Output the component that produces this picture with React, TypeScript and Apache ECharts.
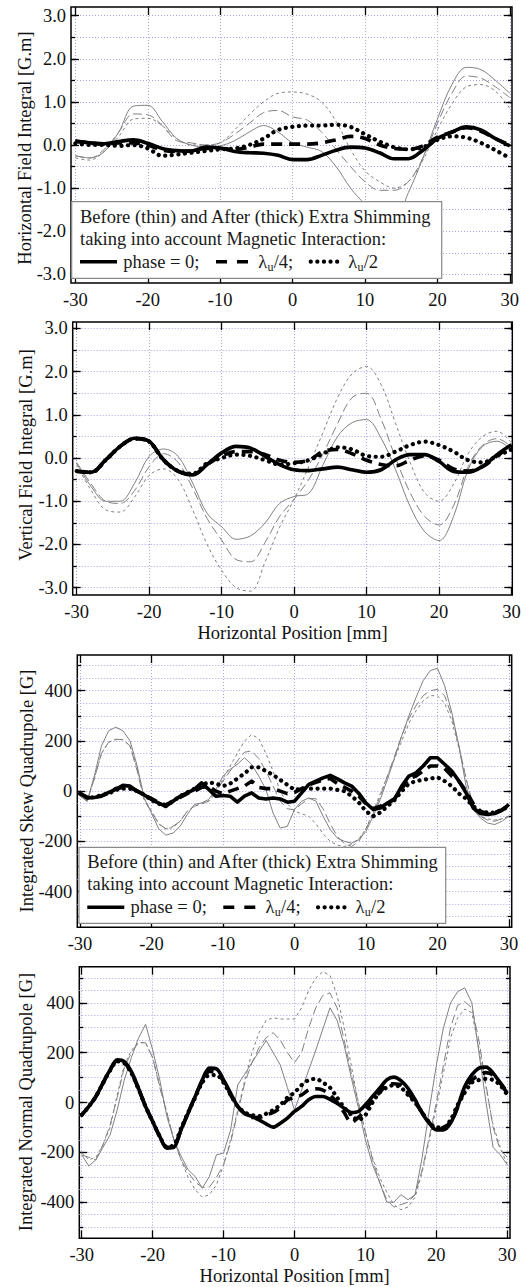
import { useEffect, useRef } from "react";
import * as echarts from "echarts";

// ---------- x positions (mm) ----------
const X2 = [-30,-28,-26,-24,-22,-20,-18,-16,-14,-12,-10,-8,-6,-4,-2,0,2,4,6,8,10,12,14,16,18,20,22,24,26,28,30];
const X1 = [-30,-29,-28,-27,-26,-25,-24,-23,-22,-21,-20,-19,-18,-17,-16,-15,-14,-13,-12,-11,-10,-9,-8,-7,-6,-5,-4,-3,-2,-1,0,1,2,3,4,5,6,7,8,9,10,11,12,13,14,15,16,17,18,19,20,21,22,23,24,25,26,27,28,29,30];

// ---------- tick values ----------
const X_TICKS = [-30,-20,-10,0,10,20,30];
const FIELD_LABELS = [-3,-2,-1,0,1,2,3];
const FIELD_MINOR = [-3,-2.5,-2,-1.5,-1,-0.5,0,0.5,1,1.5,2,2.5,3];
const QUAD_LABELS = [-400,-200,0,200,400];
const QUAD_MINOR = [-500,-400,-300,-200,-100,0,100,200,300,400,500];
const QUAD_GRID = [-500,-450,-400,-350,-300,-250,-200,-150,-100,-50,0,50,100,150,200,250,300,350,400,450,500];

// ---------- Panel 1: Horizontal field integral [G.m] ----------
const hBefore0 = [-0.25,-0.3,-0.15,0.3,0.9,0.92,0.55,0.15,0.0,-0.05,-0.02,0.1,0.3,0.45,0.3,0.05,-0.05,-0.15,-0.5,-1.0,-1.38,-1.75,-1.75,-1.1,-0.3,0.6,1.4,1.8,1.75,1.5,1.2];
const hBefore4 = [-0.25,-0.3,-0.1,0.3,0.72,0.7,0.45,0.1,0.05,0.0,0.05,0.25,0.5,0.75,0.8,0.65,0.58,0.3,-0.1,-0.5,-0.85,-1.05,-1.05,-0.85,-0.3,0.5,1.2,1.6,1.55,1.35,1.1];
const hBefore2 = [-0.3,-0.35,-0.15,0.2,0.6,0.62,0.45,0.15,0.0,0.0,0.05,0.35,0.7,1.0,1.2,1.23,1.18,1.0,0.55,-0.1,-0.6,-0.85,-1.0,-0.85,-0.35,0.35,0.95,1.35,1.4,1.25,0.85];
const hAfter0 = [0.08,0.05,0.03,0.08,0.12,0.04,-0.08,-0.13,-0.14,-0.05,-0.07,-0.15,-0.18,-0.19,-0.24,-0.34,-0.34,-0.24,-0.12,-0.05,-0.07,-0.18,-0.32,-0.32,-0.12,0.15,0.3,0.42,0.35,0.15,-0.02];
const hAfter4 = [0.1,0.05,0.02,0.05,0.05,0.0,-0.12,-0.15,-0.14,-0.08,-0.08,-0.1,-0.05,0.02,0.02,0.02,0.02,0.05,0.12,0.2,0.15,0.0,-0.08,-0.1,-0.02,0.18,0.3,0.4,0.32,0.15,0.0];
const hAfter2 = [0.04,0.0,0.0,-0.02,0.0,-0.08,-0.25,-0.22,-0.18,-0.14,-0.1,-0.08,0.0,0.15,0.35,0.42,0.45,0.45,0.47,0.42,0.25,0.08,-0.05,-0.1,-0.05,0.12,0.2,0.17,0.05,-0.12,-0.3];

// ---------- Panel 2: Vertical field integral [G.m] ----------
const vBefore0 = [-0.12,-0.66,-1.0,-1.0,-0.58,0.04,0.21,0.04,-0.58,-1.28,-1.59,-1.88,-1.8,-1.5,-1.05,-0.89,-0.82,-0.15,0.5,0.82,0.89,0.46,-0.27,-1.12,-1.7,-1.91,-1.35,-0.27,0.27,0.39,0.19];
const vBefore4 = [-0.1,-0.6,-1.0,-1.05,-0.75,-0.2,0.1,-0.1,-0.7,-1.4,-1.9,-2.35,-2.4,-1.95,-1.35,-0.95,-0.5,0.1,0.8,1.4,1.5,0.9,0.0,-0.8,-1.35,-1.55,-1.1,-0.2,0.3,0.45,0.25];
const vBefore2 = [-0.15,-0.75,-1.2,-1.25,-0.9,-0.4,-0.25,-0.5,-1.2,-2.0,-2.6,-3.0,-3.08,-2.4,-1.6,-0.95,-0.2,0.6,1.4,1.95,2.12,1.7,0.8,-0.1,-0.8,-1.0,-0.6,0.1,0.5,0.62,0.35];
const vAfter0 = [-0.31,-0.33,-0.04,0.27,0.46,0.39,-0.04,-0.31,-0.39,-0.15,0.12,0.27,0.23,0.04,-0.15,-0.27,-0.29,-0.25,-0.21,-0.27,-0.33,-0.27,-0.04,0.08,0.08,-0.08,-0.31,-0.33,-0.19,0.08,0.31];
const vAfter4 = [-0.3,-0.33,-0.05,0.27,0.45,0.38,-0.05,-0.3,-0.38,-0.15,0.05,0.15,0.15,0.08,-0.05,-0.1,-0.05,0.15,0.2,0.1,-0.05,-0.15,-0.18,-0.05,0.05,-0.05,-0.25,-0.3,-0.2,0.05,0.28];
const vAfter2 = [-0.3,-0.33,-0.05,0.27,0.45,0.38,-0.05,-0.3,-0.36,-0.12,0.0,0.08,0.05,-0.05,-0.15,-0.12,-0.05,0.1,0.25,0.2,0.05,0.03,0.15,0.3,0.38,0.3,0.15,-0.05,-0.1,0.05,0.2];

// ---------- Panel 3: Integrated skew quadrupole [G] ----------
const sBefore0 = [-5,-40,60,180,240,255,240,200,100,-30,-87,-150,-175,-167,-140,-93,-53,-47,-33,7,60,87,107,133,107,60,7,-87,-147,-140,-73,-40,-27,-40,-100,-153,-187,-200,-207,-193,-160,-100,-33,47,133,220,300,373,440,480,489,420,313,180,20,-73,-107,-127,-133,-120,-100];
const sBefore4 = [-20,-40,50,150,195,207,205,180,80,-40,-80,-130,-150,-140,-120,-80,-60,-50,-40,0,40,80,120,155,160,130,80,20,-40,-70,-75,-50,-30,-30,-70,-130,-180,-210,-220,-200,-150,-90,-20,60,140,220,290,340,380,400,405,380,300,180,50,-60,-100,-115,-120,-110,-100];
const sBefore2 = [-20,-40,50,150,195,205,205,180,90,-30,-80,-130,-150,-145,-120,-80,-60,-50,-40,-10,50,100,150,200,225,210,150,80,0,-50,-80,-90,-100,-130,-170,-200,-215,-220,-210,-190,-150,-80,-10,60,130,200,270,320,360,380,380,350,280,170,50,-60,-100,-110,-115,-110,-100];
const sAfter0 = [-7,-27,-25,-20,-5,7,23,20,0,-15,-33,-48,-60,-40,-20,-7,7,33,7,-20,-17,-20,-44,-20,-7,-27,-31,-27,-31,-44,-40,-7,27,40,53,63,49,33,20,-9,-47,-73,-67,-47,-31,20,60,73,100,133,133,107,80,40,-7,-67,-89,-93,-89,-76,-53];
const sAfter4 = [-10,-25,-25,-18,-8,10,15,15,0,-15,-30,-45,-55,-40,-25,-10,0,15,20,0,-10,0,10,20,40,15,10,10,0,-10,-5,10,25,35,45,50,30,15,0,-20,-50,-70,-60,-50,-30,10,50,60,80,100,100,90,60,40,0,-50,-80,-90,-85,-75,-55];
const sAfter2 = [-10,-25,-25,-15,-10,5,10,10,0,-15,-35,-50,-60,-40,-20,-5,10,25,35,30,20,30,50,70,95,95,80,65,45,25,5,10,10,10,10,10,5,0,-20,-45,-80,-100,-85,-60,-35,0,30,40,45,50,55,40,20,-10,-30,-60,-80,-85,-85,-75,-60];

// ---------- Panel 4: Integrated normal quadrupole [G] ----------
const nBefore0 = [-210,-255,-230,-180,-130,-30,90,180,258,314,211,91,-56,-150,-215,-270,-297,-344,-297,-210,-203,-110,71,115,160,205,249,200,150,60,-30,50,130,210,295,380,330,230,100,-20,-150,-250,-320,-400,-400,-370,-390,-370,-220,-30,150,300,400,445,460,400,200,0,-180,-210,-250];
const nBefore4 = [-210,-220,-230,-170,-90,20,140,200,240,240,180,60,-40,-150,-230,-280,-320,-340,-340,-300,-250,-160,-40,80,160,220,260,280,250,200,160,200,300,380,430,440,380,250,120,0,-120,-230,-320,-390,-420,-410,-400,-370,-270,-140,0,150,300,390,405,380,250,70,-100,-190,-220];
const nBefore2 = [-200,-230,-220,-170,-100,30,150,210,240,240,180,70,-40,-150,-230,-300,-350,-380,-370,-330,-250,-150,-30,90,200,280,330,340,335,335,335,380,450,500,525,510,430,300,150,0,-120,-220,-300,-360,-410,-430,-420,-380,-280,-150,-20,120,260,340,375,360,220,60,-90,-180,-250];
const nAfter0 = [-50,-16,24,78,131,171,164,124,57,-16,-76,-136,-183,-180,-110,-43,24,91,138,135,91,37,-16,-45,-56,-70,-86,-99,-83,-63,-36,-16,11,24,24,13,-3,-23,-40,-36,-9,24,57,91,102,88,57,11,-43,-83,-110,-110,-83,-16,64,111,138,142,118,78,37];
const nAfter4 = [-50,-16,24,78,131,168,160,120,55,-16,-76,-136,-180,-175,-110,-40,24,85,125,120,85,30,-15,-45,-60,-60,-50,-40,-20,10,20,30,50,55,50,30,0,-40,-80,-60,-30,10,40,70,75,70,40,0,-40,-80,-110,-100,-80,-20,50,90,110,120,110,80,40];
const nAfter2 = [-50,-16,24,78,128,165,158,118,55,-16,-76,-136,-178,-170,-105,-40,20,80,110,110,80,30,-15,-40,-50,-55,-45,-30,-10,20,40,70,90,95,80,60,20,-20,-50,-70,-50,0,40,60,70,60,30,0,-40,-80,-100,-100,-70,-10,40,80,90,95,90,70,30];

// ---------- styling / layout ----------
const FONT = "Liberation Serif, serif";
const FS = 18.5;
const GRID_COLOR = "#a6a6e8";
const THIN = "#808080";

const LAYOUT = [
  { left: 71, top: 7, width: 441, height: 276, xMin: -30.6, xMax: 30.3, yMin: -3.2, yMax: 3.2, titleX: 24.5, titleY: 148 },
  { left: 72.7, top: 322, width: 439.6, height: 273, xMin: -30.55, xMax: 30.1, yMin: -3.17, yMax: 3.15, titleX: 25.5, titleY: 455 },
  { left: 77.3, top: 655, width: 434.4, height: 272.3, xMin: -30.38, xMax: 30.38, yMin: -542, yMax: 542, titleX: 26.5, titleY: 791 },
  { left: 79.3, top: 966.7, width: 430.7, height: 271.6, xMin: -30.34, xMax: 30.38, yMin: -545, yMax: 545, titleX: 26, titleY: 1102 },
];

const PANELS = [
  { name: "Horizontal Field Integral [G.m]", xName: "", labels: FIELD_LABELS, minor: FIELD_MINOR, grid: FIELD_MINOR, field: true,
    xs: X2, series: [hBefore0, hBefore4, hBefore2, hAfter0, hAfter4, hAfter2] },
  { name: "Vertical Field Integral [G.m]", xName: "Horizontal Position [mm]", labels: FIELD_LABELS, minor: FIELD_MINOR, grid: FIELD_MINOR, field: true,
    xs: X2, series: [vBefore0, vBefore4, vBefore2, vAfter0, vAfter4, vAfter2] },
  { name: "Integrated Skew Quadrupole [G]", xName: "", labels: QUAD_LABELS, minor: QUAD_MINOR, grid: QUAD_GRID, field: false,
    xs: X1, series: [sBefore0, sBefore4, sBefore2, sAfter0, sAfter4, sAfter2] },
  { name: "Integrated Normal Quadrupole [G]", xName: "Horizontal Position [mm]", labels: QUAD_LABELS, minor: QUAD_MINOR, grid: QUAD_GRID, field: false,
    xs: X1, series: [nBefore0, nBefore4, nBefore2, nAfter0, nAfter4, nAfter2] },
];

const LINE_STYLES = [
  { color: THIN, width: 1, type: "solid" },
  { color: THIN, width: 1, type: [9, 4] },
  { color: THIN, width: 1, type: [3, 3] },
  { color: "#000", width: 3.6, type: "solid" },
  { color: "#000", width: 3.6, type: [11, 7] },
  { color: "#000", width: 4.2, type: [0.1, 6.5], cap: "round" },
];

const tickLine = { color: "#000", width: 1.3 };
const textBase = { fontFamily: FONT, fontSize: FS, color: "#111" };

function buildAxes() {
  const xAxis: any[] = [];
  const yAxis: any[] = [];
  LAYOUT.forEach((L, g) => {
    const P = PANELS[g];
    const xc = { type: "value", gridIndex: g, min: L.xMin, max: L.xMax, axisLine: { show: false, onZero: false } };
    xAxis.push({
      ...xc, position: "bottom",
      axisTick: { show: true, inside: true, length: 8, lineStyle: tickLine, customValues: X_TICKS },
      axisLabel: { show: true, customValues: X_TICKS, margin: 7, ...textBase },
      splitLine: { show: true, lineStyle: { color: GRID_COLOR, width: 1, type: [1, 2] } },
      name: P.xName, nameLocation: "middle", nameGap: 28, nameTextStyle: { ...textBase },
    });
    xAxis.push({
      ...xc, position: "top",
      axisTick: { show: true, inside: true, length: 8, lineStyle: tickLine, customValues: X_TICKS },
      axisLabel: { show: false }, splitLine: { show: false },
    });
    const yc = { type: "value", gridIndex: g, min: L.yMin, max: L.yMax, axisLine: { show: false, onZero: false },
      axisLabel: { show: false }, splitLine: { show: false } };
    const fmt = P.field ? (v: number) => v.toFixed(1) : (v: number) => String(v);
    yAxis.push({
      ...yc, position: "left",
      axisTick: { show: true, inside: true, length: 8, lineStyle: tickLine, customValues: P.labels },
      axisLabel: { show: true, customValues: P.labels, formatter: fmt, margin: 5, ...textBase },
    });
    yAxis.push({
      ...yc, position: "left",
      axisTick: { show: false, customValues: P.grid },
      splitLine: { show: true, lineStyle: { color: GRID_COLOR, width: 1, type: [1, 2] } },
    });
    yAxis.push({ ...yc, position: "left",
      axisTick: { show: true, inside: true, length: 4, lineStyle: tickLine, customValues: P.minor } });
    yAxis.push({ ...yc, position: "right",
      axisTick: { show: true, inside: true, length: 8, lineStyle: tickLine, customValues: P.labels } });
    yAxis.push({ ...yc, position: "right",
      axisTick: { show: true, inside: true, length: 4, lineStyle: tickLine, customValues: P.minor } });
  });
  return { xAxis, yAxis };
}

function buildSeries() {
  const out: any[] = [];
  PANELS.forEach((P, g) => {
    P.series.forEach((ys, k) => {
      const ls: any = LINE_STYLES[k];
      const smooth = g < 2 ? 0.35 : g === 3 && k >= 3 ? 0.3 : false;
      out.push({
        type: "line", xAxisIndex: g * 2, yAxisIndex: g * 5,
        data: P.xs.map((x, i) => [x, ys[i]]),
        showSymbol: false, symbol: "none", smooth, silent: true,
        z: k >= 3 ? 4 : 3,
        lineStyle: { color: ls.color, width: ls.width, type: ls.type, cap: ls.cap || "butt", join: "round" },
      });
    });
  });
  return out;
}

function yTitles() {
  return LAYOUT.map((L, g) => ({
    type: "text", x: L.titleX, y: L.titleY, rotation: Math.PI / 2, z: 50,
    style: { text: PANELS[g].name, fontFamily: FONT, fontSize: FS, fill: "#111", align: "center", verticalAlign: "middle" },
  }));
}

function legendBox(bx: number, by: number, w: number, h: number) {
  const t = (text: string, x: number, y: number, size = FS) => ({
    type: "text", x, y, z: 101,
    style: { text, fontFamily: FONT, fontSize: size, fill: "#1a1a1a", align: "left", verticalAlign: "middle" },
  });
  const l3 = by + 60;
  return [
    { type: "rect", z: 100, shape: { x: bx, y: by, width: w, height: h },
      style: { fill: "#fff", stroke: "#8a8a8a", lineWidth: 1.2 } },
    t("Before (thin) and After (thick) Extra Shimming", bx + 8.3, by + 15),
    t("taking into account Magnetic Interaction:", bx + 8.3, by + 37),
    { type: "line", z: 101, shape: { x1: bx + 8.3, y1: l3, x2: bx + 45.3, y2: l3 }, style: { stroke: "#000", lineWidth: 3.6 } },
    t("phase = 0;", bx + 51.6, l3),
    { type: "line", z: 101, shape: { x1: bx + 144.3, y1: l3, x2: bx + 176.3, y2: l3 },
      style: { stroke: "#000", lineWidth: 3.6, lineDash: [11, 10] } },
    t("λ", bx + 186.6, l3),
    t("u", bx + 195.8, l3 + 5, 12),
    t("/4;", bx + 202, l3),
    { type: "line", z: 101, shape: { x1: bx + 239, y1: l3, x2: bx + 270, y2: l3 },
      style: { stroke: "#000", lineWidth: 4.2, lineDash: [0.1, 6.5], lineCap: "round" } },
    t("λ", bx + 276.6, l3),
    t("u", bx + 285.8, l3 + 5, 12),
    t("/2", bx + 292, l3),
  ];
}

export default function App() {
  const ref = useRef<HTMLDivElement>(null);
  useEffect(() => {
    document.body.style.margin = "0";
    if (!ref.current) return;
    const chart = echarts.init(ref.current, undefined, { renderer: "svg" });
    const { xAxis, yAxis } = buildAxes();
    chart.setOption({
      animation: false,
      backgroundColor: "#fff",
      textStyle: { fontFamily: FONT },
      grid: LAYOUT.map((L) => ({
        left: L.left, top: L.top, width: L.width, height: L.height,
        show: true, borderColor: "#000", borderWidth: 1.5, backgroundColor: "transparent",
        containLabel: false,
      })),
      xAxis, yAxis,
      series: buildSeries(),
      graphic: [...yTitles(), ...legendBox(71.7, 201.7, 370, 76.6), ...legendBox(79, 847.3, 366.7, 76)],
    });
    return () => chart.dispose();
  }, []);
  return <div ref={ref} style={{ width: 532, height: 1287 }} />;
}
